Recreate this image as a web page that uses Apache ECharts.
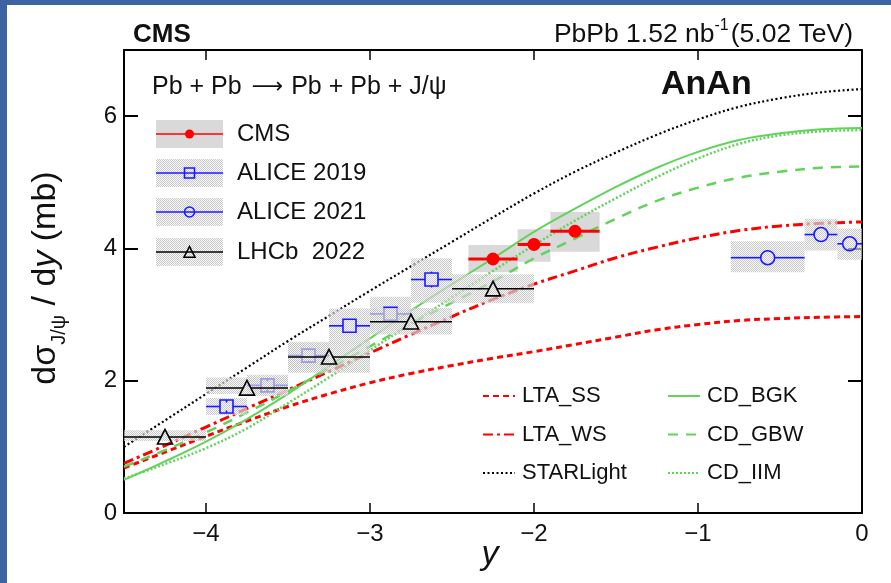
<!DOCTYPE html>
<html>
<head>
<meta charset="utf-8">
<script src="https://cdn.jsdelivr.net/npm/echarts@6/dist/echarts.min.js"></script>
<style>
  html, body { margin: 0; padding: 0; background: #ffffff; }
  #chart { width: 891px; height: 583px; }
</style>
</head>
<body>
<div id="chart"></div>
<script>
// ---- Axis ticks ----
const xTicks = [-4, -3, -2, -1, 0];
const yTicks = [0, 2, 4, 6];

// ---- Model predictions: dσ/dy (mb) vs rapidity ----
const modelRapidity = [-4.5, -4.25, -4.0, -3.75, -3.5, -3.25, -3.0, -2.75, -2.5, -2.25,
                       -2.0, -1.75, -1.5, -1.25, -1.0, -0.75, -0.5, -0.25, 0];
const ltaSS     = [0.68, 0.92, 1.16, 1.39, 1.61, 1.80, 1.97, 2.11, 2.23, 2.34,
                   2.44, 2.55, 2.66, 2.77, 2.85, 2.91, 2.94, 2.96, 2.97];
const ltaWS     = [0.75, 1.02, 1.30, 1.58, 1.86, 2.14, 2.42, 2.70, 2.97, 3.23,
                   3.46, 3.66, 3.86, 4.02, 4.16, 4.27, 4.34, 4.38, 4.40];
const starlight = [1.00, 1.40, 1.80, 2.20, 2.60, 2.98, 3.36, 3.73, 4.10, 4.47,
                   4.83, 5.16, 5.45, 5.72, 5.95, 6.14, 6.27, 6.36, 6.41];
const cdBGK     = [0.50, 0.78, 1.08, 1.42, 1.80, 2.22, 2.64, 3.06, 3.46, 3.85,
                   4.25, 4.60, 4.93, 5.22, 5.46, 5.64, 5.74, 5.80, 5.82];
const cdGBW     = [0.70, 0.95, 1.22, 1.52, 1.84, 2.18, 2.52, 2.86, 3.18, 3.50,
                   3.85, 4.15, 4.45, 4.72, 4.92, 5.07, 5.16, 5.22, 5.24];
const cdIIM     = [0.52, 0.74, 0.98, 1.28, 1.66, 2.05, 2.46, 2.86, 3.26, 3.66,
                   4.05, 4.42, 4.76, 5.08, 5.36, 5.58, 5.71, 5.77, 5.79];

// ---- CMS ----
const cmsY       = [-2.25, -2.0, -1.75];
const cmsBinLow  = [-2.4, -2.1, -1.9];
const cmsBinHigh = [-2.1, -1.9, -1.6];
const cmsXsec    = [3.84, 4.06, 4.26];
const cmsSysLow  = [3.64, 3.80, 3.95];
const cmsSysHigh = [4.05, 4.29, 4.55];

// ---- ALICE 2019 ----
const alice19Y       = [-3.875, -3.625, -3.375, -3.125, -2.875, -2.625];
const alice19BinLow  = [-4.0, -3.75, -3.5, -3.25, -3.0, -2.75];
const alice19BinHigh = [-3.75, -3.5, -3.25, -3.0, -2.75, -2.5];
const alice19Xsec    = [1.61, 1.93, 2.38, 2.83, 3.01, 3.53];
const alice19Stat    = [0.06, 0.06, 0.08, 0.10, 0.10, 0.12];
const alice19SysLow  = [1.48, 1.77, 2.19, 2.56, 2.76, 3.18];
const alice19SysHigh = [1.74, 2.09, 2.57, 3.09, 3.27, 3.85];

// ---- ALICE 2021 ----
const alice21Y       = [-0.575, -0.25, -0.075];
const alice21BinLow  = [-0.8, -0.35, -0.15];
const alice21BinHigh = [-0.35, -0.15, 0.0];
const alice21Xsec    = [3.86, 4.21, 4.07];
const alice21SysLow  = [3.64, 3.97, 3.83];
const alice21SysHigh = [4.11, 4.45, 4.30];

// ---- LHCb 2022 ----
const lhcbY       = [-4.25, -3.75, -3.25, -2.75, -2.25];
const lhcbBinLow  = [-4.5, -4.0, -3.5, -3.0, -2.5];
const lhcbBinHigh = [-4.0, -3.5, -3.0, -2.5, -2.0];
const lhcbXsec    = [1.15, 1.89, 2.36, 2.89, 3.39];
const lhcbSysLow  = [1.09, 1.80, 2.12, 2.70, 3.17];
const lhcbSysHigh = [1.25, 2.05, 2.59, 3.10, 3.61];

// ---- styling ----
const FONT = '"Liberation Sans", Arial, Helvetica, sans-serif';
const RED = '#ff0000';
const GREEN = '#62d35a';
const BLUE = '#1a1aff';
const TEXT = '#111111';

// stippled fill used for the ALICE / LHCb systematic boxes
function stipple() {
  const c = document.createElement('canvas');
  c.width = 4; c.height = 4;
  const g = c.getContext('2d');
  for (let i = 0; i < 4; i++) {
    for (let j = 0; j < 4; j++) {
      g.fillStyle = ((i + j) % 2 === 0) ? 'rgba(190,190,190,0.85)' : 'rgba(245,245,245,0.55)';
      g.fillRect(i, j, 1, 1);
    }
  }
  return c;
}
const STIPPLE = { image: stipple(), repeat: 'repeat' };

function zipPairs(xs, ys) { return xs.map((x, i) => [x, ys[i]]); }

function boxData(lo, hi, sLo, sHi) { return lo.map((v, i) => [v, hi[i], sHi[i], sLo[i]]); }

function boxRender(fill) {
  return function (params, api) {
    const p0 = api.coord([api.value(0), api.value(2)]);
    const p1 = api.coord([api.value(1), api.value(3)]);
    return { type: 'rect', shape: { x: p0[0], y: p0[1], width: p1[0] - p0[0], height: p1[1] - p0[1] }, style: { fill: fill } };
  };
}

// marker: 'fcircle' | 'ocircle' | 'osquare' | 'otriangle'
function markerShapes(kind, cx, cy, color, s) {
  if (kind === 'fcircle') return [{ type: 'circle', shape: { cx, cy, r: s }, style: { fill: color } }];
  if (kind === 'ocircle') return [{ type: 'circle', shape: { cx, cy, r: s }, style: { fill: 'none', stroke: color, lineWidth: 1.6 } }];
  if (kind === 'osquare') return [{ type: 'rect', shape: { x: cx - s, y: cy - s, width: 2 * s, height: 2 * s }, style: { fill: 'none', stroke: color, lineWidth: 1.6 } }];
  return [{ type: 'polygon', shape: { points: [[cx, cy - s], [cx - s, cy + s * 0.95], [cx + s, cy + s * 0.95]] }, style: { fill: 'none', stroke: color, lineWidth: 1.6 } }];
}

function pointRender(kind, color, size, lineW, gap) {
  return function (params, api) {
    const x = api.value(0), y = api.value(1), lo = api.value(2), hi = api.value(3), st = api.value(4);
    const c = api.coord([x, y]);
    const l = api.coord([lo, y]);
    const h = api.coord([hi, y]);
    const children = [];
    const ls = { stroke: color, lineWidth: lineW };
    children.push({ type: 'line', shape: { x1: l[0], y1: c[1], x2: c[0] - gap, y2: c[1] }, style: ls });
    children.push({ type: 'line', shape: { x1: c[0] + gap, y1: c[1], x2: h[0], y2: c[1] }, style: ls });
    if (st > 0) {
      const top = api.coord([x, y + st]);
      const bot = api.coord([x, y - st]);
      children.push({ type: 'line', shape: { x1: c[0], y1: top[1], x2: c[0], y2: c[1] - size }, style: ls });
      children.push({ type: 'line', shape: { x1: c[0], y1: c[1] + size, x2: c[0], y2: bot[1] }, style: ls });
    }
    return { type: 'group', children: children.concat(markerShapes(kind, c[0], c[1], color, size)) };
  };
}

function pointData(xs, ys, lo, hi, st) { return xs.map((x, i) => [x, ys[i], lo[i], hi[i], st ? st[i] : 0]); }

function curve(name, values, color, width, type) {
  return {
    name, type: 'line', data: zipPairs(modelRapidity, values), smooth: 0.35,
    symbol: 'none', showSymbol: false, z: 3,
    lineStyle: { color, width, type }, itemStyle: { color },
    emphasis: { disabled: true }, animation: false
  };
}

const chart = echarts.init(document.getElementById('chart'), null, { renderer: 'canvas' });

const minusFmt = v => (v < 0 ? '\u2212' + Math.abs(v) : String(v));

const axisCommonX = {
  type: 'value', min: -4.5, max: 0,
  axisLine: { show: true, onZero: false, lineStyle: { color: '#000', width: 2 } },
  axisTick: { show: true, inside: true, length: 10, customValues: xTicks, lineStyle: { color: '#000', width: 1.5 } },
  splitLine: { show: false }
};
const axisCommonY = {
  type: 'value', min: 0, max: 7,
  axisLine: { show: true, onZero: false, lineStyle: { color: '#000', width: 2 } },
  axisTick: { show: true, inside: true, length: 14, customValues: yTicks, lineStyle: { color: '#000', width: 2 } },
  splitLine: { show: false }
};

const legendRows = [
  { label: 'CMS', y: 134, kind: 'fcircle', color: RED, fill: '#d9d9d9', s: 4.5 },
  { label: 'ALICE 2019', y: 173, kind: 'osquare', color: BLUE, fill: STIPPLE, s: 5 },
  { label: 'ALICE 2021', y: 212, kind: 'ocircle', color: BLUE, fill: STIPPLE, s: 5 },
  { label: 'LHCb  2022', y: 252, kind: 'otriangle', color: '#000', fill: STIPPLE, s: 5.5 }
];
const legendGraphics = [];
legendRows.forEach(r => {
  const cx = 189.5;
  legendGraphics.push({ type: 'rect', shape: { x: 156, y: r.y - 14, width: 67, height: 28 }, style: { fill: r.fill }, z: 10 });
  legendGraphics.push({ type: 'line', shape: { x1: 156, y1: r.y, x2: 223, y2: r.y }, style: { stroke: r.color, lineWidth: 1.5 }, z: 11 });
  markerShapes(r.kind, cx, r.y, r.color, r.s).forEach(m => {
    if (m.style.fill === 'none') m.style.fill = r.fill === '#d9d9d9' ? '#d9d9d9' : 'rgba(0,0,0,0)';
    m.z = 12; legendGraphics.push(m);
  });
  legendGraphics.push({ type: 'text', x: 237, y: r.y, z: 12, style: { text: r.label, font: '24px ' + FONT, fill: TEXT, verticalAlign: 'middle', align: 'left' } });
});

const curveLegend = {
  orient: 'vertical', top: 385, padding: 0,
  itemWidth: 32, itemHeight: 14, itemGap: 16.5, selectedMode: false,
  itemStyle: { opacity: 0 },
  textStyle: { fontSize: 22, fontFamily: FONT, color: TEXT, padding: [0, 0, 0, 2] }
};

const option = {
  backgroundColor: '#ffffff',
  animation: false,
  grid: { left: 124, top: 50, right: 29, bottom: 70, containLabel: false },
  xAxis: [
    Object.assign({}, axisCommonX, {
      position: 'bottom',
      axisLabel: { show: true, customValues: xTicks, formatter: minusFmt, fontSize: 24, fontFamily: FONT, color: TEXT, margin: 9 }
    }),
    Object.assign({}, axisCommonX, { position: 'top', axisLabel: { show: false } })
  ],
  yAxis: [
    Object.assign({}, axisCommonY, {
      position: 'left',
      axisLabel: { show: true, customValues: yTicks, formatter: minusFmt, fontSize: 24, fontFamily: FONT, color: TEXT, margin: 7 }
    }),
    Object.assign({}, axisCommonY, { position: 'right', axisLabel: { show: false } })
  ],
  legend: [
    Object.assign({}, curveLegend, { data: ['LTA_SS', 'LTA_WS', 'STARLight'], left: 482 }),
    Object.assign({}, curveLegend, { data: ['CD_BGK', 'CD_GBW', 'CD_IIM'], left: 667 })
  ],
  graphic: [
    { type: 'rect', shape: { x: 0, y: 0, width: 891, height: 5 }, style: { fill: '#3b64a0' }, z: 20 },
    { type: 'rect', shape: { x: 0, y: 0, width: 7, height: 583 }, style: { fill: '#3b64a0' }, z: 20 },
    { type: 'text', x: 133, y: 35, style: { text: 'CMS', font: 'bold 26px ' + FONT, fill: TEXT, verticalAlign: 'middle' } },
    {
      type: 'text', x: 853, y: 35,
      style: {
        text: '{a|PbPb 1.52 nb}{s|-1}{a|(5.02 TeV)}', align: 'right', verticalAlign: 'middle',
        rich: {
          a: { font: '26.5px ' + FONT, fill: TEXT },
          s: { font: '16px ' + FONT, fill: TEXT, padding: [0, 2, 18, 0] }
        }
      }
    },
    {
      type: 'text', x: 152, y: 87,
      style: {
        text: '{a|Pb + Pb}{r|\u27f6}{a|Pb + Pb + J/\u03c8}', verticalAlign: 'middle',
        rich: {
          a: { font: '25px ' + FONT, fill: TEXT },
          r: { font: '22px "DejaVu Sans", sans-serif', fill: TEXT, padding: [0, 8, 0, 10] }
        }
      }
    },
    { type: 'text', x: 661, y: 85, style: { text: 'AnAn', font: 'bold 34px ' + FONT, fill: TEXT, verticalAlign: 'middle' } },
    {
      type: 'text', x: 46, y: 278, rotation: Math.PI / 2,
      style: {
        text: '{n|d\u03c3}{s|J/\u03c8}{n| / d}{i|y}{n| (mb)}', align: 'center', verticalAlign: 'middle',
        rich: {
          n: { font: '34px ' + FONT, fill: TEXT },
          i: { font: 'italic 34px ' + FONT, fill: TEXT },
          s: { font: '20px ' + FONT, fill: TEXT, padding: [27, 0, 0, 0] }
        }
      }
    },
    { type: 'text', x: 490, y: 555, style: { text: 'y', font: 'italic 34px ' + FONT, fill: TEXT, align: 'center', verticalAlign: 'middle' } }
  ].concat(legendGraphics),
  series: [
    // CMS systematic boxes (below the curves)
    { name: 'CMS sys', type: 'custom', z: 1, renderItem: boxRender('#d9d9d9'), data: boxData(cmsBinLow, cmsBinHigh, cmsSysLow, cmsSysHigh), silent: true },
    curve('LTA_SS', ltaSS, RED, 3, [6, 4]),
    curve('LTA_WS', ltaWS, RED, 3, [10, 4, 3, 4]),
    curve('STARLight', starlight, '#000000', 2.2, [2, 2.5]),
    curve('CD_BGK', cdBGK, GREEN, 2, 'solid'),
    curve('CD_GBW', cdGBW, GREEN, 2.5, [10, 8]),
    curve('CD_IIM', cdIIM, GREEN, 2.5, [2, 2]),
    // ALICE 2021
    { name: 'ALICE 2021 sys', type: 'custom', z: 4, renderItem: boxRender(STIPPLE), data: boxData(alice21BinLow, alice21BinHigh, alice21SysLow, alice21SysHigh), silent: true },
    { name: 'ALICE 2021', type: 'custom', z: 5, renderItem: pointRender('ocircle', BLUE, 7, 1.6, 7), data: pointData(alice21Y, alice21Xsec, alice21BinLow, alice21BinHigh), silent: true },
    // ALICE 2019
    { name: 'ALICE 2019 sys', type: 'custom', z: 4, renderItem: boxRender(STIPPLE), data: boxData(alice19BinLow, alice19BinHigh, alice19SysLow, alice19SysHigh), silent: true },
    { name: 'ALICE 2019', type: 'custom', z: 5, renderItem: pointRender('osquare', BLUE, 6.5, 1.6, 6.5), data: pointData(alice19Y, alice19Xsec, alice19BinLow, alice19BinHigh, alice19Stat), silent: true },
    // LHCb 2022
    { name: 'LHCb 2022 sys', type: 'custom', z: 6, renderItem: boxRender(STIPPLE), data: boxData(lhcbBinLow, lhcbBinHigh, lhcbSysLow, lhcbSysHigh), silent: true },
    { name: 'LHCb 2022', type: 'custom', z: 7, renderItem: pointRender('otriangle', '#000000', 7.5, 1.5, 3.8), data: pointData(lhcbY, lhcbXsec, lhcbBinLow, lhcbBinHigh), silent: true },
    // CMS points on top
    { name: 'CMS', type: 'custom', z: 8, renderItem: pointRender('fcircle', RED, 6.5, 3, 0), data: pointData(cmsY, cmsXsec, cmsBinLow, cmsBinHigh), silent: true }
  ]
};

chart.setOption(option);
</script>
</body>
</html>
